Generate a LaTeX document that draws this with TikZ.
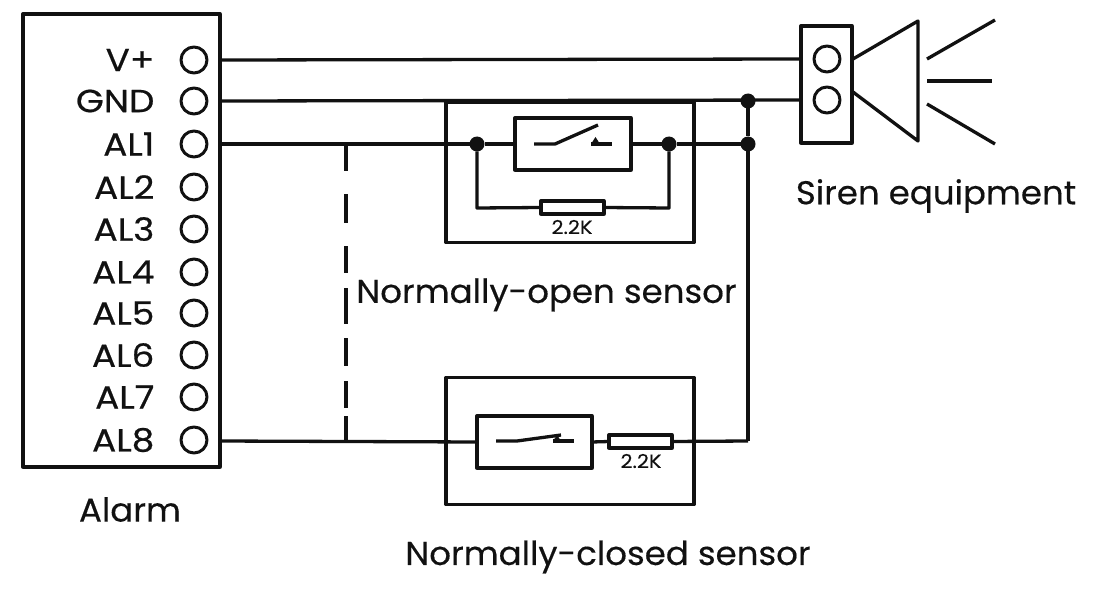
\documentclass[tikz,border=0pt]{standalone}
\usepackage{fontspec}
\setmainfont{Poppins}
\newfontface\pinface[FakeStretch=1.12,FakeBold=0.5]{Poppins}
\newfontface\capface[FakeStretch=1.03,FakeBold=0.35]{Poppins}
\newfontface\valface[FakeStretch=1.1,FakeBold=0.2]{Poppins}
\usetikzlibrary{calc}
\definecolor{ink}{HTML}{111111}
\tikzset{
  x=1pt,y=-1pt,
  every path/.style={line width=3.3pt,color=ink,line join=round},
  boxshape/.style={draw,rectangle,inner sep=0,outer sep=0,fill=none},
  termshape/.style={draw,circle,inner sep=0,outer sep=0,minimum size=26pt,line width=3pt},
  dotnode/.style={circle,fill=ink,inner sep=0,outer sep=0,minimum size=15pt},
  pinlabel/.style={font=\pinface\fontsize{32}{32}\selectfont,anchor=east,inner sep=0,text=ink},
  biglabel/.style={font=\capface\fontsize{33}{33}\selectfont,inner sep=0,text=ink},
  vallabel/.style={font=\valface\fontsize{19}{19}\selectfont,inner sep=0,text=ink},
  resshape/.style={boxshape,fill=white,minimum width=63pt,minimum height=13pt},
}
\begin{document}
\begin{tikzpicture}
\useasboundingbox (0,0) rectangle (1098,599);
% alarm
\node[boxshape,minimum width=197pt,minimum height=453pt] (alarm) at (121.5,240.5) {};
\foreach \n/\t/\y in {vp/V+/60,gnd/GND/101,al1/AL1/144,al2/AL2/187,al3/AL3/229,al4/AL4/272,al5/AL5/313,al6/AL6/355,al7/AL7/397,al8/AL8/440}{
  \node[termshape] (\n) at (194,\y) {};
  \node[pinlabel] (lbl\n) at (156,\y) {\t};
}
\node[biglabel] (alarmlbl) at (130,509.5) {Alarm};
\coordinate (ovp) at (220,60);
\coordinate (ognd) at (220,101);
\coordinate (oal1) at (220,144);
\coordinate (oal8) at (220,441);
% sensor boxes
\node[boxshape,minimum width=248pt,minimum height=140pt] (nobox) at (570,172.5) {};
\node[boxshape,minimum width=248pt,minimum height=127pt] (ncbox) at (570,441) {};
% siren
\node[boxshape,minimum width=51pt,minimum height=117pt] (siren) at (826.5,84.5) {};
\node[termshape,minimum size=26pt] (s1) at (827,59) {};
\node[termshape,minimum size=26pt] (s2) at (827,100) {};
\coordinate (h1) at (853,59);
\coordinate (h2) at (918,21);
\coordinate (h3) at (918,141);
\coordinate (h4) at (853,92);
\draw (h1) -- (h2) -- (h3) -- (h4);
\coordinate (r1a) at (927,59); \coordinate (r1b) at (995,20);
\coordinate (r2a) at (927,81); \coordinate (r2b) at (992,81);
\coordinate (r3a) at (927,104); \coordinate (r3b) at (995,144);
\draw (r1a) -- (r1b);
\draw (r2a) -- (r2b);
\draw (r3a) -- (r3b);
\node[biglabel] (sirenlbl) at (936,196) {Siren equipment};
% junctions
\node[dotnode] (j1) at (748,101) {};
\node[dotnode] (j2) at (748,144) {};
\node[dotnode] (j3) at (477,144) {};
\node[dotnode] (j4) at (669,144) {};
\coordinate (j5) at (748,441);
\coordinate (da) at (346,144);
\coordinate (db) at (346,441);
% NO sensor parts
\node[boxshape,minimum width=116pt,minimum height=52pt] (nosw) at (573,144) {};
\node[resshape] (nores) at (572.5,207.5) {};
\node[vallabel] (noval) at (572,227) {2.2K};
\coordinate (nob1) at (477,208);
\coordinate (nob2) at (669,208);
% NC sensor parts
\node[boxshape,minimum width=115pt,minimum height=52pt] (ncsw) at (534.5,442) {};
\node[resshape] (ncres) at (640.5,441.5) {};
\node[vallabel] (ncval) at (641,461) {2.2K};
% wires
\draw (ovp) -- (s1.west -| siren.west);
\draw (ognd) -- (s2.west -| siren.west);
\draw (oal1) -- (j3) -- (nosw.west);
\draw (nosw.east) -- (j4) -- (j2);
\draw (j1) -- (j2) -- (j5);
\draw (j3) -- (nob1) -- (nores.west);
\draw (j4) -- (nob2) -- (nores.east);
\draw (oal8) -- (ncsw.west);
\draw (ncsw.east) -- (ncres.west);
\draw (ncres.east) -- (j5);
\draw[dash pattern=on 27pt off 23pt on 29pt off 23pt on 27pt off 15pt on 36pt off 14pt on 28pt off 15pt on 27pt off 8pt on 30pt off 30pt] (da) -- (db);
% switch symbols
\coordinate (a1) at (534,144); \coordinate (a2) at (555,144); \coordinate (a3) at (598,125);
\coordinate (a4) at (591,144); \coordinate (a5) at (612,144);
\draw (a1) -- (a2) -- (a3);
\draw (a4) -- (a5);
\fill (591,144) -- (595.5,137) -- (600,144) -- cycle;
\coordinate (b1) at (496,441); \coordinate (b2) at (517,441); \coordinate (b3) at (561,435);
\coordinate (b4) at (553,441); \coordinate (b5) at (574,441);
\draw (b1) -- (b2) -- (b3);
\draw (b4) -- (b5);
\fill (553,441) -- (557,435) -- (561,441) -- cycle;
\node[biglabel] (nolbl) at (546.5,295) {Normally-open sensor};
\node[biglabel] (nclbl) at (608,557) {Normally-closed sensor};
\end{tikzpicture}
\end{document}
